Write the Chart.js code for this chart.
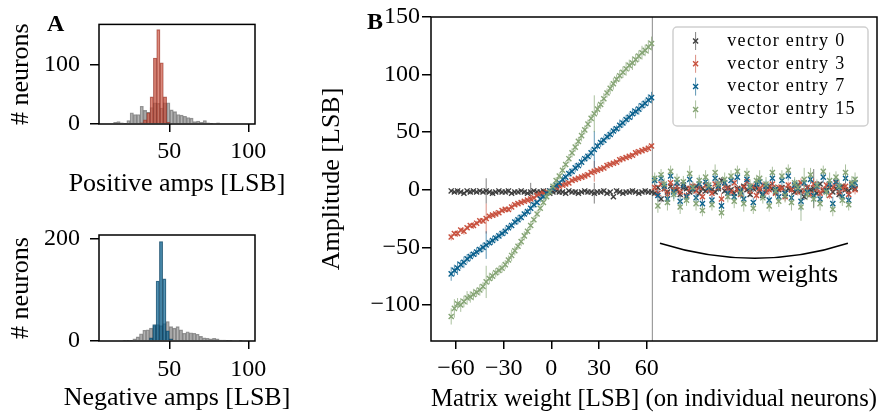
<!DOCTYPE html>
<html lang="en">
<head>
<meta charset="UTF-8">
<title>Amplitude vs matrix weight</title>
<script src="https://cdn.jsdelivr.net/npm/chart.js"></script>
<style>
    body {
        margin: 0;
        width: 894px;
        height: 416px;
        overflow: hidden;
        position: relative;
        background: #fff;
        font-family: "Liberation Serif", serif;
    }
    .box { position: absolute; }
    canvas { display: block; }
    .panel {
        position: absolute;
        font-weight: bold;
        font-size: 24px;
        line-height: 1;
        color: #000;
    }
</style>
</head>
<body>

<div class="box" style="left:0;top:0"><canvas id="histPos" width="290" height="206"></canvas></div>
<div class="box" style="left:0;top:210px"><canvas id="histNeg" width="290" height="206"></canvas></div>
<div class="box" style="left:300px;top:0"><canvas id="amp" width="594" height="416"></canvas></div>
<div class="panel" style="left:47px;top:11px">A</div>
<div class="panel" style="left:367px;top:9px">B</div>

<script>
// ---- panel A: histograms ----
const histXTicks = [50, 100];
const histXLabels = ['50', '100'];

const posCenters = [15.75, 17.85, 19.95, 22.05, 24.15, 26.25, 28.35, 30.45, 32.55, 34.65, 36.75,
    38.85, 40.95, 43.05, 45.15, 47.25, 49.35, 51.45, 53.55, 55.65, 57.75, 59.85, 61.95,
    64.05, 66.15, 68.25, 70.35, 72.45, 74.55, 76.65, 78.75, 80.85, 82.95];
const posAll = [3, 4, 2, 1, 6, 19, 16, 16, 30, 23, 20, 28, 36, 35, 27, 36, 36, 24, 21, 16, 15,
    13, 11, 10, 4, 5, 3, 6, 2, 1, 0, 2, 0];
const posSelCenters = [32.55, 34.65, 36.75, 38.85, 40.95, 43.05, 45.15, 47.25, 49.35];
const posSel = [2, 7, 19, 46, 112, 160, 104, 46, 3];

const negCenters = [21.65, 23.75, 25.85, 27.95, 30.05, 32.15, 34.25, 36.35, 38.45, 40.55, 42.65,
    44.75, 46.85, 48.95, 51.05, 53.15, 55.25, 57.35, 59.45, 61.55, 63.65, 65.75, 67.85,
    69.95, 72.05, 74.15, 76.25, 78.35, 80.45, 82.55, 84.65, 86.75, 88.85, 90.95, 93.05, 95.15];
const negAll = [1, 1, 1, 4, 8, 14, 21, 22, 25, 30, 32, 30, 34, 38, 28, 25, 28, 22, 15, 18, 16,
    15, 13, 9, 6, 5, 4, 5, 4, 2, 2, 1, 1, 0, 0, 1];
const negSelCenters = [38.45, 40.55, 42.65, 44.75, 46.85, 48.95, 51.05];
const negSel = [6, 32, 117, 194, 121, 20, 4];

// ---- panel B: amplitude vs weight ----
const entries = [0, 3, 7, 15];
const ampXTicks = [-60, -30, 0, 30, 60];
const ampXLabels = ['\u221260', '\u221230', '0', '30', '60'];
const ampYTicks = [-100, -50, 0, 50, 100, 150];
const ampYLabels = ['\u2212100', '\u221250', '0', '50', '100', '150'];
const separatorX = 63.5;
const bracketX = [68.3, 127.9, 186.5];
const bracketY = [-46.5, -59.5, -46.5];
const bracketText = 'random weights';
const bracketTextY = -74;

const xLin = [-63, -61, -59, -57, -55, -53, -51, -49, -47, -45, -43, -41, -39, -37, -35, -33,
    -31, -29, -27, -25, -23, -21, -19, -17, -15, -13, -11, -9, -7, -5, -3, -1,
    1, 3, 5, 7, 9, 11, 13, 15, 17, 19, 21, 23, 25, 27, 29, 31,
    33, 35, 37, 39, 41, 43, 45, 47, 49, 51, 53, 55, 57, 59, 61, 63];
const xRand = [65, 67, 69, 71, 73, 75, 77, 79, 81, 83, 85, 87, 89, 91, 93, 95,
    97, 99, 101, 103, 105, 107, 109, 111, 113, 115, 117, 119, 121, 123, 125, 127,
    129, 131, 133, 135, 137, 139, 141, 143, 145, 147, 149, 151, 153, 155, 157, 159,
    161, 163, 165, 167, 169, 171, 173, 175, 177, 179, 181, 183, 185, 187, 189, 191];

const amp0Lin = [-1, -2, -1, -2, -3, -1, -2, -1, -2, -1, -2, -1, -2, -3, -2, -1,
    -2, -2, -1, -3, -2, -2, -1, -2, -3, -2, -1, -2, -2, -1, -2, -3,
    -2, -1, -2, -2, -3, -1, -2, -2, -3, -2, -1, -2, -2, -3, -2, -2,
    -1, -3, -2, -6, -1, -2, -3, -2, -2, -1, -2, -3, -2, -1, -2, -2];
const amp3Lin = [-41, -38, -38, -35, -36, -33, -31, -31, -29, -27, -27, -25, -23, -22, -21, -20,
    -18, -17, -17, -15, -13, -12, -11, -10, -9, -8, -7, -5, -4, -3, -2, -1,
    1, 2, 3, 4, 5, 6, 8, 9, 10, 11, 12, 13, 15, 16, 17, 18,
    19, 21, 22, 23, 24, 26, 27, 28, 29, 30, 32, 33, 34, 35, 36, 38];
const amp7Lin = [-73, -70, -68, -65, -63, -60, -58, -56, -54, -52, -50, -48, -46, -44, -42, -40,
    -38, -36, -33, -31, -28, -26, -24, -21, -19, -16, -13, -11, -8, -6, -3, -1,
    1, 4, 6, 9, 11, 14, 16, 19, 21, 24, 27, 29, 32, 35, 38, 41,
    43, 46, 48, 51, 53, 56, 58, 61, 63, 66, 68, 70, 73, 75, 78, 80];
const amp15Lin = [-110, -103, -99, -100, -97, -94, -93, -91, -89, -87, -84, -80, -77, -75, -72, -70,
    -68, -65, -61, -57, -53, -49, -45, -40, -36, -31, -26, -21, -16, -11, -6, -2,
    3, 8, 12, 17, 22, 27, 32, 37, 42, 47, 52, 57, 62, 66, 70, 74,
    79, 84, 88, 92, 96, 99, 102, 105, 108, 110, 113, 116, 119, 121, 124, 127];

const amp0Rand = [-3, 2, -8, 1, -2, 3, -1, 0, -4, 2, 1, -2, 0, 3, -3, 1,
    -1, 2, 0, -2, 1, 8, -1, 2, 0, -3, 1, -2, 3, 0, -4, 1,
    2, -1, -5, 0, 3, 1, -2, 0, 2, -3, 1, 0, -2, 4, -1, -6,
    2, 0, 1, -3, 5, -1, 0, 2, -2, 1, -4, 3, 0, -1, 2, 1];
const amp3Rand = [2, -3, 5, 1, -4, 6, 0, 3, -2, 4, -5, 1, 3, -1, 2, -6,
    4, 0, -3, 5, 2, -8, 3, 1, -2, 6, 0, -4, 2, 7, -1, 3,
    -5, 1, 4, -2, 0, 5, -3, 2, 1, -6, 4, 0, 3, -2, 6, -1,
    2, -4, 5, 1, -3, 0, 4, -5, 2, 6, -2, 1, 3, -4, 5, 0];
const amp7Rand = [8, -5, 10, 3, -8, 12, -2, 6, -10, 4, -6, 9, 1, -7, 5, -12,
    7, 2, -9, 10, 3, -14, 6, -3, 8, -6, 11, -1, -8, 9, 2, -11,
    5, 7, -4, 3, -9, 10, 0, -6, 8, -3, 12, -7, 4, 1, -10, 6,
    -2, 9, -5, 3, -8, 11, -1, 5, -12, 7, 2, -6, 10, -9, 4, 6];
const amp15Rand = [10, -14, 13, 5, -11, 16, -4, 9, -15, 7, -9, 14, 2, -12, 8, -18,
    11, 4, -13, 15, 5, -20, 9, -6, 12, -10, 16, -3, -12, 14, 3, -16,
    8, 10, -7, 5, -14, 15, -1, -10, 12, -5, 17, -11, 6, 2, -15, 9,
    -4, 13, -8, 4, -12, 16, -2, 8, -17, 11, 3, -9, 15, -13, 6, 9];

const err0Lin = [1, 1, 2, 1, 1, 1, 2, 1, 1, 1, 1, 11, 1, 2, 1, 1,
    1, 1, 2, 1, 1, 1, 1, 2, 1, 8, 1, 1, 1, 2, 1, 1,
    1, 1, 2, 1, 1, 1, 1, 2, 1, 1, 1, 2, 1, 9, 1, 1,
    2, 1, 1, 1, 2, 1, 1, 1, 1, 2, 1, 1, 1, 2, 1, 1];
const err3Lin = [3, 2, 3, 2, 3, 2, 2, 3, 2, 2, 2, 13, 2, 2, 3, 2,
    2, 2, 2, 3, 2, 2, 2, 2, 2, 4, 2, 2, 2, 2, 2, 2,
    2, 2, 2, 2, 3, 2, 2, 2, 2, 2, 3, 2, 2, 9, 2, 2,
    2, 3, 2, 2, 2, 3, 2, 2, 2, 2, 3, 2, 2, 2, 3, 2];
const err7Lin = [6, 5, 6, 4, 5, 4, 4, 3, 4, 3, 4, 12, 3, 4, 3, 3,
    3, 4, 3, 3, 3, 4, 3, 3, 3, 5, 3, 2, 3, 2, 2, 2,
    2, 3, 2, 3, 3, 3, 3, 4, 3, 4, 3, 3, 4, 16, 3, 4,
    4, 3, 4, 4, 3, 5, 4, 4, 4, 5, 4, 5, 4, 4, 5, 5];
const err15Lin = [7, 8, 5, 6, 5, 6, 5, 5, 4, 5, 4, 14, 5, 4, 4, 4,
    4, 4, 4, 5, 4, 3, 4, 4, 3, 4, 3, 3, 3, 3, 3, 3,
    3, 3, 3, 4, 3, 4, 4, 4, 4, 5, 4, 4, 4, 16, 5, 4,
    5, 4, 5, 5, 4, 5, 5, 6, 5, 6, 5, 5, 6, 5, 6, 6];

const err0Rand = [2, 2, 3, 2, 2, 2, 3, 2, 2, 2, 2, 3, 2, 2, 2, 2,
    2, 3, 2, 2, 2, 3, 2, 2, 2, 2, 3, 2, 2, 2, 2, 3,
    2, 2, 2, 2, 3, 2, 2, 2, 2, 3, 2, 2, 2, 2, 2, 3,
    2, 2, 17, 2, 2, 3, 2, 2, 2, 2, 3, 2, 2, 2, 2, 2];
const err3Rand = [3, 4, 3, 3, 4, 3, 3, 3, 4, 3, 3, 3, 4, 3, 3, 4,
    3, 3, 4, 3, 3, 5, 3, 3, 3, 4, 3, 3, 3, 4, 3, 3,
    4, 3, 3, 3, 4, 3, 3, 3, 3, 4, 3, 3, 3, 3, 4, 3,
    3, 3, 5, 3, 4, 3, 3, 3, 4, 3, 3, 3, 4, 3, 3, 4];
const err7Rand = [4, 5, 4, 4, 5, 4, 6, 4, 5, 4, 4, 5, 4, 4, 6, 4,
    4, 5, 4, 4, 5, 4, 4, 5, 4, 4, 6, 4, 5, 4, 4, 4,
    5, 4, 4, 5, 4, 6, 4, 4, 4, 5, 4, 4, 5, 4, 8, 4,
    5, 4, 6, 4, 4, 5, 4, 4, 6, 4, 5, 4, 4, 5, 4, 5];
const err15Rand = [5, 6, 5, 5, 7, 5, 6, 5, 6, 5, 5, 7, 5, 6, 5, 5,
    6, 5, 5, 7, 5, 5, 6, 5, 5, 6, 5, 5, 7, 5, 6, 5,
    5, 7, 5, 6, 5, 5, 6, 5, 5, 6, 5, 7, 5, 6, 12, 10,
    5, 6, 7, 5, 6, 5, 5, 7, 6, 5, 6, 5, 7, 5, 6, 6];

const serif = '"Liberation Serif", serif';
Chart.defaults.font.family = serif;
Chart.defaults.color = '#000';

const series = [
    { entry: entries[0], color: '#3d3d3d', errColor: 'rgba(61,61,61,0.65)', lin: amp0Lin, rand: amp0Rand, eLin: err0Lin, eRand: err0Rand },
    { entry: entries[1], color: '#c8503d', errColor: 'rgba(200,80,61,0.65)', lin: amp3Lin, rand: amp3Rand, eLin: err3Lin, eRand: err3Rand },
    { entry: entries[2], color: '#09608d', errColor: 'rgba(9,96,141,0.65)', lin: amp7Lin, rand: amp7Rand, eLin: err7Lin, eRand: err7Rand },
    { entry: entries[3], color: '#86a575', errColor: 'rgba(134,165,117,0.7)', lin: amp15Lin, rand: amp15Rand, eLin: err15Lin, eRand: err15Rand }
];

// box around the plot area
const frame = {
    id: 'frame',
    afterDraw(chart) {
        const { ctx, chartArea: a } = chart;
        ctx.save();
        ctx.strokeStyle = '#000';
        ctx.lineWidth = 1.5;
        ctx.strokeRect(a.left, a.top, a.right - a.left, a.bottom - a.top);
        ctx.restore();
    }
};

// x label of the small panels, drawn without the axis width limit
const histTitle = {
    id: 'histTitle',
    afterDraw(chart, args, opts) {
        const { ctx, chartArea: a } = chart;
        ctx.save();
        ctx.font = '26px ' + serif;
        ctx.fillStyle = '#000';
        ctx.textAlign = 'center';
        ctx.textBaseline = 'middle';
        ctx.fillText(opts.text, (a.left + a.right) / 2, opts.y);
        ctx.restore();
    }
};

function histogram(id, o) {
    return new Chart(document.getElementById(id), {
        type: 'bar',
        data: {
            datasets: [
                {
                    data: o.selC.map((x, i) => ({ x: x, y: o.sel[i] })),
                    backgroundColor: o.fill,
                    borderColor: o.edge,
                    borderWidth: 0.7,
                    order: 1
                },
                {
                    data: o.allC.map((x, i) => ({ x: x, y: o.all[i] })),
                    backgroundColor: 'rgba(128,128,128,0.58)',
                    borderColor: 'rgba(70,70,70,0.55)',
                    borderWidth: 0.7,
                    order: 2
                }
            ]
        },
        options: {
            responsive: false,
            animation: false,
            events: [],
            layout: { padding: { left: 0, right: 35, top: o.top, bottom: 0 } },
            datasets: { bar: { grouped: false, barPercentage: 1, categoryPercentage: 1 } },
            plugins: {
                legend: { display: false },
                tooltip: { enabled: false },
                histTitle: { text: o.title, y: o.titleY }
            },
            scales: {
                x: {
                    type: 'linear',
                    min: 5.5,
                    max: 104.2,
                    offset: false,
                    grid: { offset: false, drawOnChartArea: false, tickLength: 8, color: '#000', lineWidth: 1.5 },
                    border: { display: false },
                    ticks: {
                        padding: o.xPad, maxRotation: 0, autoSkip: false,
                        font: { size: 24 }, color: '#000',
                        callback: (v, i) => histXLabels[i]
                    },
                    afterBuildTicks: s => { s.ticks = histXTicks.map(v => ({ value: v })); },
                    afterFit: s => { s.height = o.xHeight; }
                },
                y: {
                    min: 0,
                    max: o.yMax,
                    grid: { drawOnChartArea: false, tickLength: 9, color: '#000', lineWidth: 1.5 },
                    border: { display: false },
                    ticks: { padding: 10, font: { size: 24 }, color: '#000', callback: (v, i) => o.yLabels[i] },
                    afterBuildTicks: s => { s.ticks = o.yTicks.map(v => ({ value: v })); },
                    afterFit: s => { s.width = 99; },
                    title: { display: true, text: '# neurons', font: { size: 26 }, color: '#000', padding: { top: 6, bottom: 0 } }
                }
            }
        },
        plugins: [frame, histTitle]
    });
}

histogram('histPos', {
    allC: posCenters, all: posAll, selC: posSelCenters, sel: posSel,
    fill: 'rgba(200,80,61,0.66)', edge: 'rgba(140,45,35,0.7)',
    yMax: 169, yTicks: [0, 100], yLabels: ['0', '100'],
    title: 'Positive amps [LSB]', titleY: 184.5, top: 18, xHeight: 82, xPad: 5
});

histogram('histNeg', {
    allC: negCenters, all: negAll, selC: negSelCenters, sel: negSel,
    fill: 'rgba(9,96,141,0.68)', edge: 'rgba(5,55,85,0.7)',
    yMax: 206.6, yTicks: [0, 200], yLabels: ['0', '200'],
    title: 'Negative amps [LSB]', titleY: 188, top: 25, xHeight: 75, xPad: 6
});

// error bars under each dataset's markers
const errorBars = {
    id: 'errorBars',
    beforeDatasetDraw(chart, args) {
        const ds = chart.data.datasets[args.index];
        if (!ds.errors) return;
        const { ctx, chartArea: a } = chart;
        const x = chart.scales.x, y = chart.scales.y;
        ctx.save();
        ctx.beginPath();
        ctx.rect(a.left, a.top, a.right - a.left, a.bottom - a.top);
        ctx.clip();
        ctx.strokeStyle = ds.errorColor;
        ctx.lineWidth = 1;
        ctx.beginPath();
        ds.data.forEach((p, i) => {
            const px = x.getPixelForValue(p.x);
            ctx.moveTo(px, y.getPixelForValue(p.y - ds.errors[i]));
            ctx.lineTo(px, y.getPixelForValue(p.y + ds.errors[i]));
        });
        ctx.stroke();
        ctx.restore();
    }
};

const separator = {
    id: 'separator',
    beforeDatasetsDraw(chart) {
        const { ctx, chartArea: a } = chart;
        const px = chart.scales.x.getPixelForValue(separatorX);
        ctx.save();
        ctx.strokeStyle = '#8a8a8a';
        ctx.lineWidth = 1;
        ctx.beginPath();
        ctx.moveTo(px, a.top);
        ctx.lineTo(px, a.bottom);
        ctx.stroke();
        ctx.restore();
    }
};

const bracket = {
    id: 'bracket',
    afterDatasetsDraw(chart) {
        const { ctx } = chart;
        const x = chart.scales.x, y = chart.scales.y;
        const x0 = x.getPixelForValue(bracketX[0]), x2 = x.getPixelForValue(bracketX[2]);
        const y0 = y.getPixelForValue(bracketY[0]), y2 = y.getPixelForValue(bracketY[2]);
        const xm = x.getPixelForValue(bracketX[1]), ym = y.getPixelForValue(bracketY[1]);
        ctx.save();
        ctx.strokeStyle = '#000';
        ctx.lineWidth = 1.5;
        ctx.beginPath();
        ctx.moveTo(x0, y0);
        ctx.quadraticCurveTo(2 * xm - (x0 + x2) / 2, 2 * ym - (y0 + y2) / 2, x2, y2);
        ctx.stroke();
        ctx.fillStyle = '#000';
        ctx.font = '26px ' + serif;
        ctx.textAlign = 'center';
        ctx.textBaseline = 'middle';
        ctx.fillText(bracketText, xm, y.getPixelForValue(bracketTextY));
        ctx.restore();
    }
};

const legendBox = {
    id: 'legendBox',
    afterDraw(chart) {
        const { ctx, chartArea: a } = chart;
        const w = 195, h = 99;
        const left = a.right - 9 - w, top = a.top + 10;
        ctx.save();
        ctx.beginPath();
        ctx.roundRect(left, top, w, h, 4);
        ctx.fillStyle = 'rgba(255,255,255,0.85)';
        ctx.fill();
        ctx.strokeStyle = '#d0d0d0';
        ctx.lineWidth = 1.5;
        ctx.stroke();
        ctx.font = '18px ' + serif;
        ctx.letterSpacing = '1.3px';
        ctx.textBaseline = 'middle';
        series.forEach((s, k) => {
            const cy = top + 14 + k * 22.8, mx = left + 22.6, r = 2.5;
            ctx.strokeStyle = s.errColor;
            ctx.lineWidth = 1;
            ctx.beginPath();
            ctx.moveTo(mx, cy - 9);
            ctx.lineTo(mx, cy + 9);
            ctx.stroke();
            ctx.strokeStyle = s.color;
            ctx.lineWidth = 1.4;
            ctx.beginPath();
            ctx.moveTo(mx - r, cy - r); ctx.lineTo(mx + r, cy + r);
            ctx.moveTo(mx - r, cy + r); ctx.lineTo(mx + r, cy - r);
            ctx.stroke();
            ctx.fillStyle = '#000';
            ctx.fillText('vector entry ' + s.entry, left + 54.3, cy);
        });
        ctx.restore();
    }
};

const xAll = xLin.concat(xRand);

new Chart(document.getElementById('amp'), {
    type: 'scatter',
    data: {
        datasets: series.map((s, k) => {
            const ys = s.lin.concat(s.rand);
            return {
                label: 'vector entry ' + s.entry,
                data: xAll.map((x, i) => ({ x: x, y: ys[i] })),
                errors: s.eLin.concat(s.eRand),
                errorColor: s.errColor,
                pointStyle: 'crossRot',
                pointRadius: 3.6,
                pointBorderWidth: 1.4,
                borderColor: s.color,
                backgroundColor: s.color,
                showLine: false,
                order: series.length - k
            };
        })
    },
    options: {
        responsive: false,
        animation: false,
        events: [],
        layout: { padding: { left: 0, right: 17, top: 17, bottom: 0 } },
        plugins: { legend: { display: false }, tooltip: { enabled: false } },
        scales: {
            x: {
                type: 'linear',
                min: -75.7,
                max: 204.8,
                grid: { drawOnChartArea: false, tickLength: 8, color: '#000', lineWidth: 1.5 },
                border: { display: false },
                ticks: { padding: 5, maxRotation: 0, autoSkip: false, font: { size: 24 }, color: '#000', callback: (v, i) => ampXLabels[i] },
                afterBuildTicks: s => { s.ticks = ampXTicks.map(v => ({ value: v })); },
                afterFit: s => { s.height = 75; },
                title: { display: true, text: 'Matrix weight [LSB] (on individual neurons)', font: { size: 26 }, color: '#000', padding: { top: 0, bottom: 1 } }
            },
            y: {
                min: -131.3,
                max: 150,
                grid: { drawOnChartArea: false, tickLength: 9, color: '#000', lineWidth: 1.5 },
                border: { display: false },
                ticks: { padding: 2, font: { size: 24 }, color: '#000', callback: (v, i) => ampYLabels[i] },
                afterBuildTicks: s => { s.ticks = ampYTicks.map(v => ({ value: v })); },
                afterFit: s => { s.width = 131; },
                title: { display: true, text: 'Amplitude [LSB]', font: { size: 26 }, color: '#000', padding: { top: 17, bottom: 0 } }
            }
        }
    },
    plugins: [separator, errorBars, bracket, frame, legendBox]
});
</script>

</body>
</html>
